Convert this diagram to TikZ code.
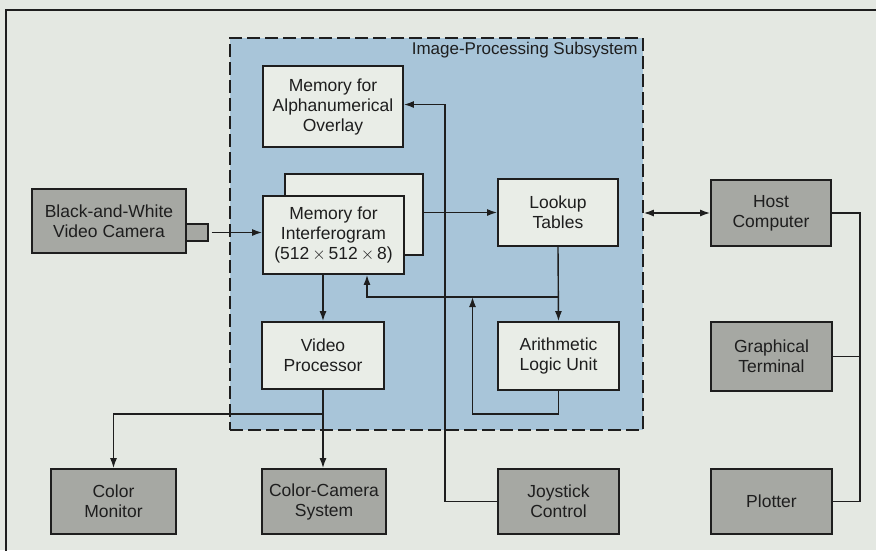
\documentclass[tikz,border=0pt]{standalone}
\usepackage{fontspec}
\setmainfont{Liberation Sans}
\usetikzlibrary{arrows.meta}
\definecolor{bgc}{RGB}{228,232,226}
\definecolor{bluec}{RGB}{168,197,217}
\definecolor{grayc}{RGB}{166,168,163}
\definecolor{whitec}{RGB}{233,237,231}
\definecolor{inkc}{RGB}{30,30,30}
\tikzset{
  box/.style={draw=inkc, line width=1.8pt, align=center, text=inkc, inner sep=0pt,
    font=\fontsize{17.5}{20}\selectfont},
  wbox/.style={box, fill=whitec},
  gbox/.style={box, fill=grayc},
  conn/.style={draw=inkc, line width=1.4pt},
  arr/.style={conn, -{Latex[length=10pt,width=7pt]}},
  darr/.style={conn, {Latex[length=10pt,width=7pt]}-{Latex[length=10pt,width=7pt]}},
}
\begin{document}
\begin{tikzpicture}[x=1pt,y=-1pt]
\useasboundingbox[fill=bgc] (0,0) rectangle (876,550);
% outer frame
\draw[inkc, line width=1.6pt] (6,560) -- (6,10) -- (880,10);
% subsystem
\node[draw=inkc, dashed, dash pattern=on 13pt off 5pt, line width=1.6pt, fill=bluec,
  minimum width=413pt, minimum height=392pt, inner sep=0pt] (sub) at (436.5,234) {};
\node[anchor=north east, text=inkc, font=\fontsize{17}{20}\selectfont, inner sep=0pt]
  (title) at ([xshift=-6pt,yshift=-5pt]sub.north east) {Image-Processing Subsystem};
% boxes
\node[wbox, minimum width=140pt, minimum height=81pt] (overlay) at (333,106.5)
  {Memory for\\Alphanumerical\\Overlay};
\node[wbox, minimum width=138pt, minimum height=81pt] (interB) at (354,214.5) {};
\node[wbox, minimum width=141pt, minimum height=78pt] (inter) at (333.5,235)
  {Memory for\\Interferogram\\(512\,$\times$\,512\,$\times$\,8)};
\node[gbox, minimum width=154pt, minimum height=64pt] (camera) at (109,221)
  {Black-and-White\\Video Camera};
\node[gbox, minimum width=22pt, minimum height=17pt, line width=1.4pt] (lens) at (197,232.5) {};
\node[wbox, minimum width=120pt, minimum height=67pt] (lookup) at (558,212.5) {Lookup\\Tables};
\node[gbox, minimum width=120pt, minimum height=66pt] (host) at (771,213) {Host\\Computer};
\node[wbox, minimum width=121pt, minimum height=68pt] (alu) at (558.5,356) {Arithmetic\\Logic Unit};
\node[wbox, minimum width=122pt, minimum height=67pt] (video) at (323,355.5) {Video\\Processor};
\node[gbox, minimum width=125pt, minimum height=65pt] (monitor) at (113.5,501.5) {Color\\Monitor};
\node[gbox, minimum width=124pt, minimum height=65pt] (ccam) at (324,501.5) {Color-Camera\\System};
\node[gbox, minimum width=121pt, minimum height=65pt] (joy) at (558.5,501.5) {Joystick\\Control};
\node[gbox, minimum width=121pt, minimum height=69pt] (term) at (771.5,356.5) {Graphical\\Terminal};
\node[gbox, minimum width=121pt, minimum height=65pt] (plotter) at (771.5,501.5) {Plotter};
% coordinates
\coordinate (br) at (558,297);
\coordinate (bus) at (860,0);
% connectors
\draw[arr] ([xshift=3pt]lens.east) -- (lens.east -| inter.west);
\draw[arr] (interB.east |- lookup.west) -- (lookup.west);
\draw[darr] (sub.east |- host.west) -- (host.west);
\draw[arr] (joy.west) -- ++(-52,0) |- ([yshift=2pt]overlay.east);
\draw[arr] (lookup.south) -- (alu.north);
\draw[arr] (br) -| ([xshift=33.5pt]inter.south);
\draw[arr] (alu.south) -- ++(0,23) -| ([xshift=-85.5pt]br);
\draw[arr] (video.north |- inter.south) -- (video.north);
\draw[arr] (video.south) -- (video.south |- ccam.north);
\draw[arr] (video.south) -- ++(0,24) -| (monitor.north);
\draw[conn] (host.east) -| (bus |- plotter.east) -- (plotter.east);
\draw[conn] (term.east) -- (term.east -| bus);
\end{tikzpicture}
\end{document}
